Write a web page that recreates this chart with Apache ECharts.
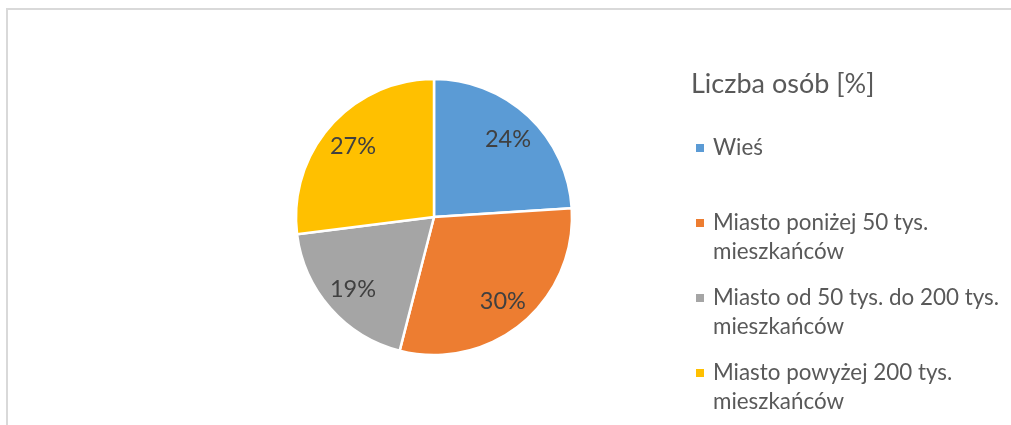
<!DOCTYPE html>
<html>
<head>
<meta charset="utf-8">
<script src="https://cdn.jsdelivr.net/npm/echarts@6/dist/echarts.min.js"></script>
<style>
html,body{margin:0;padding:0;background:#fff;}
#c{width:1011px;height:425px;}
</style>
</head>
<body>
<div id="c"></div>
<script>
var chartTitle = 'Liczba osób [%]';
var categories = ['Wieś', 'Miasto poniżej 50 tys. mieszkańców', 'Miasto od 50 tys. do 200 tys. mieszkańców', 'Miasto powyżej 200 tys. mieszkańców'];
var legendLabels = ['Wieś', 'Miasto poniżej 50 tys.\nmieszkańców', 'Miasto od 50 tys. do 200 tys.\nmieszkańców', 'Miasto powyżej 200 tys.\nmieszkańców'];
var values = [24, 30, 19, 27];
var colors = ['#5B9BD5', '#ED7D31', '#A5A5A5', '#FFC000'];

var FONT = 'Lato';
var LH = 29;
var data = categories.map(function (n, i) { return { name: n, value: values[i], itemStyle: { color: colors[i] } }; });
var iconCenters = [148, 223, 298, 373];

var legends = categories.map(function (n, i) {
  var lines = legendLabels[i].split('\n').length;
  var prefix = new Array(lines).join('\n');
  var total = (2 * lines - 1) * LH;
  return {
    orient: 'vertical', left: 696, top: iconCenters[i] - total / 2,
    padding: 0, selectedMode: false, icon: 'rect', itemWidth: 8, itemHeight: 8, itemGap: 0,
    itemStyle: { borderWidth: 0 },
    data: [n],
    formatter: function () { return prefix + legendLabels[i]; },
    textStyle: { fontFamily: FONT, fontSize: 22.4, color: '#595959', lineHeight: LH, padding: [0, 0, 0, 4] }
  };
});

var chart = echarts.init(document.getElementById('c'));
chart.setOption({
  animation: false,
  title: { text: chartTitle, left: 691, top: 71, padding: 0,
    textStyle: { fontFamily: FONT, fontSize: 27, fontWeight: 'normal', color: '#595959' } },
  legend: legends,
  graphic: [{ type: 'rect', shape: { x: 7, y: 9, width: 1100, height: 500 },
    style: { fill: 'none', stroke: '#D9D9D9', lineWidth: 2 }, silent: true }],
  series: [{
    type: 'pie', center: [434, 217], radius: [0, 138], startAngle: 90, clockwise: true,
    label: { show: false }, labelLine: { show: false },
    itemStyle: { borderColor: '#fff', borderWidth: 2.5 },
    emphasis: { disabled: true }, data: data
  }, {
    type: 'pie', center: [434, 218], radius: [72, 138], startAngle: 90, clockwise: true, silent: true,
    itemStyle: { color: 'rgba(0,0,0,0)', borderWidth: 0 }, labelLine: { show: false },
    label: { show: true, position: 'inside', formatter: '{c}%', fontFamily: FONT, fontSize: 23.5, color: '#404040' },
    emphasis: { disabled: true },
    data: data.map(function (d) { return { name: d.name, value: d.value }; })
  }]
});
</script>
</body>
</html>
